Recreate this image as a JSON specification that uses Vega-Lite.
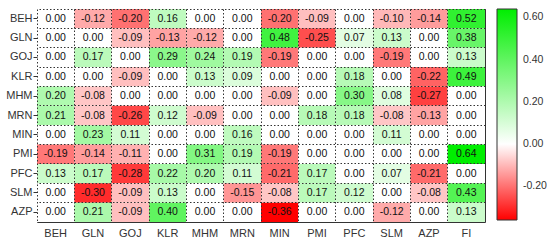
{
  "$schema": "https://vega.github.io/schema/vega-lite/v6.json",
  "width": 448,
  "height": 213,
  "padding": {"left": 5, "top": 9, "right": 0, "bottom": 0},
  "background": "white",
  "config": {
    "view": {"stroke": "#333", "strokeWidth": 1},
    "font": "Liberation Sans",
    "locale": {"number": {"decimal": ".", "thousands": ",", "grouping": [3], "currency": ["$", ""], "minus": "-"}}
  },
  "data": {
    "values": [
      {"r":"BEH","c":"BEH","v":0.00},{"r":"BEH","c":"GLN","v":-0.12},{"r":"BEH","c":"GOJ","v":-0.20},{"r":"BEH","c":"KLR","v":0.16},{"r":"BEH","c":"MHM","v":0.00},{"r":"BEH","c":"MRN","v":0.00},{"r":"BEH","c":"MIN","v":-0.20},{"r":"BEH","c":"PMI","v":-0.09},{"r":"BEH","c":"PFC","v":0.00},{"r":"BEH","c":"SLM","v":-0.10},{"r":"BEH","c":"AZP","v":-0.14},{"r":"BEH","c":"FI","v":0.52},
      {"r":"GLN","c":"BEH","v":0.00},{"r":"GLN","c":"GLN","v":0.00},{"r":"GLN","c":"GOJ","v":-0.09},{"r":"GLN","c":"KLR","v":-0.13},{"r":"GLN","c":"MHM","v":-0.12},{"r":"GLN","c":"MRN","v":0.00},{"r":"GLN","c":"MIN","v":0.48},{"r":"GLN","c":"PMI","v":-0.25},{"r":"GLN","c":"PFC","v":0.07},{"r":"GLN","c":"SLM","v":0.13},{"r":"GLN","c":"AZP","v":0.00},{"r":"GLN","c":"FI","v":0.38},
      {"r":"GOJ","c":"BEH","v":0.00},{"r":"GOJ","c":"GLN","v":0.17},{"r":"GOJ","c":"GOJ","v":0.00},{"r":"GOJ","c":"KLR","v":0.29},{"r":"GOJ","c":"MHM","v":0.24},{"r":"GOJ","c":"MRN","v":0.19},{"r":"GOJ","c":"MIN","v":-0.19},{"r":"GOJ","c":"PMI","v":0.00},{"r":"GOJ","c":"PFC","v":0.00},{"r":"GOJ","c":"SLM","v":-0.19},{"r":"GOJ","c":"AZP","v":0.00},{"r":"GOJ","c":"FI","v":0.13},
      {"r":"KLR","c":"BEH","v":0.00},{"r":"KLR","c":"GLN","v":0.00},{"r":"KLR","c":"GOJ","v":-0.09},{"r":"KLR","c":"KLR","v":0.00},{"r":"KLR","c":"MHM","v":0.13},{"r":"KLR","c":"MRN","v":0.09},{"r":"KLR","c":"MIN","v":0.00},{"r":"KLR","c":"PMI","v":0.00},{"r":"KLR","c":"PFC","v":0.18},{"r":"KLR","c":"SLM","v":0.00},{"r":"KLR","c":"AZP","v":-0.22},{"r":"KLR","c":"FI","v":0.49},
      {"r":"MHM","c":"BEH","v":0.20},{"r":"MHM","c":"GLN","v":-0.08},{"r":"MHM","c":"GOJ","v":0.00},{"r":"MHM","c":"KLR","v":0.00},{"r":"MHM","c":"MHM","v":0.00},{"r":"MHM","c":"MRN","v":0.00},{"r":"MHM","c":"MIN","v":-0.09},{"r":"MHM","c":"PMI","v":0.00},{"r":"MHM","c":"PFC","v":0.30},{"r":"MHM","c":"SLM","v":0.08},{"r":"MHM","c":"AZP","v":-0.27},{"r":"MHM","c":"FI","v":0.00},
      {"r":"MRN","c":"BEH","v":0.21},{"r":"MRN","c":"GLN","v":-0.08},{"r":"MRN","c":"GOJ","v":-0.26},{"r":"MRN","c":"KLR","v":0.12},{"r":"MRN","c":"MHM","v":-0.09},{"r":"MRN","c":"MRN","v":0.00},{"r":"MRN","c":"MIN","v":0.00},{"r":"MRN","c":"PMI","v":0.18},{"r":"MRN","c":"PFC","v":0.18},{"r":"MRN","c":"SLM","v":-0.08},{"r":"MRN","c":"AZP","v":-0.13},{"r":"MRN","c":"FI","v":0.00},
      {"r":"MIN","c":"BEH","v":0.00},{"r":"MIN","c":"GLN","v":0.23},{"r":"MIN","c":"GOJ","v":0.11},{"r":"MIN","c":"KLR","v":0.00},{"r":"MIN","c":"MHM","v":0.00},{"r":"MIN","c":"MRN","v":0.16},{"r":"MIN","c":"MIN","v":0.00},{"r":"MIN","c":"PMI","v":0.00},{"r":"MIN","c":"PFC","v":0.00},{"r":"MIN","c":"SLM","v":0.11},{"r":"MIN","c":"AZP","v":0.00},{"r":"MIN","c":"FI","v":0.00},
      {"r":"PMI","c":"BEH","v":-0.19},{"r":"PMI","c":"GLN","v":-0.14},{"r":"PMI","c":"GOJ","v":-0.11},{"r":"PMI","c":"KLR","v":0.00},{"r":"PMI","c":"MHM","v":0.31},{"r":"PMI","c":"MRN","v":0.19},{"r":"PMI","c":"MIN","v":-0.19},{"r":"PMI","c":"PMI","v":0.00},{"r":"PMI","c":"PFC","v":0.00},{"r":"PMI","c":"SLM","v":0.00},{"r":"PMI","c":"AZP","v":0.00},{"r":"PMI","c":"FI","v":0.64},
      {"r":"PFC","c":"BEH","v":0.13},{"r":"PFC","c":"GLN","v":0.17},{"r":"PFC","c":"GOJ","v":-0.28},{"r":"PFC","c":"KLR","v":0.22},{"r":"PFC","c":"MHM","v":0.20},{"r":"PFC","c":"MRN","v":0.11},{"r":"PFC","c":"MIN","v":-0.21},{"r":"PFC","c":"PMI","v":0.17},{"r":"PFC","c":"PFC","v":0.00},{"r":"PFC","c":"SLM","v":0.07},{"r":"PFC","c":"AZP","v":-0.21},{"r":"PFC","c":"FI","v":0.00},
      {"r":"SLM","c":"BEH","v":0.00},{"r":"SLM","c":"GLN","v":-0.30},{"r":"SLM","c":"GOJ","v":-0.09},{"r":"SLM","c":"KLR","v":0.13},{"r":"SLM","c":"MHM","v":0.00},{"r":"SLM","c":"MRN","v":-0.15},{"r":"SLM","c":"MIN","v":-0.08},{"r":"SLM","c":"PMI","v":0.17},{"r":"SLM","c":"PFC","v":0.12},{"r":"SLM","c":"SLM","v":0.00},{"r":"SLM","c":"AZP","v":-0.08},{"r":"SLM","c":"FI","v":0.43},
      {"r":"AZP","c":"BEH","v":0.00},{"r":"AZP","c":"GLN","v":0.21},{"r":"AZP","c":"GOJ","v":-0.09},{"r":"AZP","c":"KLR","v":0.40},{"r":"AZP","c":"MHM","v":0.00},{"r":"AZP","c":"MRN","v":0.00},{"r":"AZP","c":"MIN","v":-0.36},{"r":"AZP","c":"PMI","v":0.00},{"r":"AZP","c":"PFC","v":0.00},{"r":"AZP","c":"SLM","v":-0.12},{"r":"AZP","c":"AZP","v":0.00},{"r":"AZP","c":"FI","v":0.13}
    ]
  },
  "layer": [
    {
      "mark": {"type": "rect"},
      "encoding": {
        "x": {
          "field": "c", "type": "nominal",
          "sort": ["BEH","GLN","GOJ","KLR","MHM","MRN","MIN","PMI","PFC","SLM","AZP","FI"],
          "scale": {"paddingInner": 0, "paddingOuter": 0},
          "axis": {"orient": "bottom", "title": null, "labelAngle": 0, "ticks": false, "domain": false, "grid": false, "labelPadding": 5, "labelFontSize": 11, "labelColor": "#333", "labelFont": "Liberation Sans"}
        },
        "y": {
          "field": "r", "type": "nominal",
          "sort": ["BEH","GLN","GOJ","KLR","MHM","MRN","MIN","PMI","PFC","SLM","AZP"],
          "scale": {"paddingInner": 0, "paddingOuter": 0},
          "axis": {"orient": "left", "title": null, "ticks": true, "tickSize": 4, "tickColor": "#333", "domain": false, "grid": false, "labelPadding": 1, "labelFontSize": 11, "labelColor": "#333", "labelFont": "Liberation Sans"}
        },
        "color": {
          "field": "v", "type": "quantitative",
          "scale": {"domain": [-0.36, 0, 0.64], "range": ["#ff0000", "#ffffff", "#00ee00"], "interpolate": "rgb"},
          "legend": {
            "orient": "right", "offset": 12, "title": null, "direction": "vertical",
            "gradientLength": 211, "gradientThickness": 20,
            "values": [-0.2, 0, 0.2, 0.4, 0.6], "format": ".2f",
            "gradientStrokeColor": "#333", "gradientStrokeWidth": 1,
            "labelFontSize": 10.5, "labelColor": "#333", "labelFont": "Liberation Sans", "labelOffset": 6
          }
        }
      }
    },
    {
      "mark": {"type": "text", "fontSize": 10.5, "color": "#111", "font": "Liberation Sans"},
      "encoding": {
        "x": {
          "field": "c", "type": "nominal",
          "sort": ["BEH","GLN","GOJ","KLR","MHM","MRN","MIN","PMI","PFC","SLM","AZP","FI"],
          "axis": {"orient": "top", "title": null, "labels": false, "ticks": false, "domain": false, "grid": true, "bandPosition": 0, "gridDash": [1.5, 2], "gridColor": "#333", "gridOpacity": 1, "gridWidth": 1, "zindex": 1, "minExtent": 0, "maxExtent": 0}
        },
        "y": {
          "field": "r", "type": "nominal",
          "sort": ["BEH","GLN","GOJ","KLR","MHM","MRN","MIN","PMI","PFC","SLM","AZP"],
          "axis": {"orient": "right", "title": null, "labels": false, "ticks": false, "domain": false, "grid": true, "bandPosition": 0, "gridDash": [1.5, 2], "gridColor": "#333", "gridOpacity": 1, "gridWidth": 1, "zindex": 1, "minExtent": 0, "maxExtent": 0}
        },
        "text": {"field": "v", "type": "quantitative", "format": ".2f"}
      }
    }
  ],
  "resolve": {"axis": {"x": "independent", "y": "independent"}}
}
